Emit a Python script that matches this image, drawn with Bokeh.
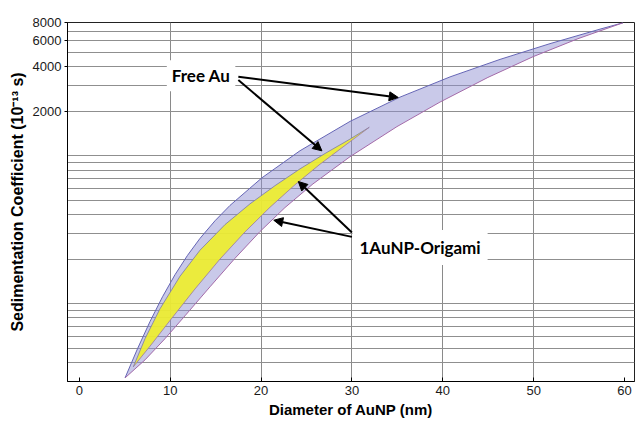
from bokeh.plotting import figure
from bokeh.models import FixedTicker, Label, Arrow, NormalHead, Range1d, NumeralTickFormatter
from bokeh.embed import file_html
from bokeh.resources import INLINE

# ---- data ----
free_upper_d = [5.03, 6.40, 7.78, 9.16, 10.53, 11.91, 13.28, 14.93, 16.58, 20.11, 24.29, 29.79,
                35.29, 40.80, 46.30, 51.80, 57.30, 59.83]
free_upper_s = [31.4, 49.4, 75.6, 111.3, 156.9, 212.3, 276.3, 363.6, 462.0, 711.7, 1084, 1712,
                2499, 3426, 4501, 5753, 7213, 7963]
free_lower_d = [5.03, 7.23, 9.43, 11.63, 14.38, 17.13, 19.88, 22.63, 25.71, 29.79, 34.96, 39.69,
                44.97, 49.93, 54.88, 59.83]
free_lower_s = [31.4, 41.6, 57.9, 82.7, 129.9, 202.6, 307.4, 446.8, 646.0, 987.4, 1579, 2313,
                3399, 4694, 6217, 7963]

origami_upper_d = [5.94, 7.23, 8.88, 11.08, 13.28, 16.03, 18.78, 21.54, 24.29, 27.04, 29.79, 31.91]
origami_upper_s = [37.3, 57.9, 92.3, 153.2, 229.9, 342.6, 473.4, 629.1, 817.1, 1038, 1299, 1562]
origami_lower_d = [5.94, 7.78, 9.98, 12.73, 15.48, 18.24, 20.99, 23.74, 26.49, 29.24, 31.91]
origami_lower_s = [37.3, 51.5, 76.8, 125.6, 200.1, 306.0, 449.3, 638.1, 878.7, 1177, 1562]

x_ticks = [0, 10, 20, 30, 40, 50, 60]
x_grid = [10, 20, 30, 40, 50]
y_ticks = [2000, 4000, 6000, 8000]
y_grid = [40, 50, 60, 70, 80, 90, 100, 200, 300, 400, 500, 600, 700, 800, 900,
          1000, 2000, 3000, 4000, 5000, 6000, 7000, 8000]

label_free = "Free Au"
label_origami = "1AuNP-Origami"

# ---- figure ----
p = figure(width=636, height=421, x_range=Range1d(-1.3, 61.1), y_range=Range1d(29.7, 8000),
           y_axis_type="log", output_backend="svg", toolbar_location=None,
           min_border_left=67, min_border_right=2, min_border_top=22, min_border_bottom=40)
p.background_fill_color = "white"
p.border_fill_color = "white"
p.outline_line_color = "#222222"
p.outline_line_width = 1

# grid
p.xgrid.ticker = FixedTicker(ticks=x_grid)
p.ygrid.ticker = FixedTicker(ticks=y_grid)
p.xgrid.grid_line_color = "#8a8a8a"
p.ygrid.grid_line_color = "#8f8f8f"
p.xgrid.grid_line_width = 1
p.ygrid.grid_line_width = 1

# axes
p.xaxis.ticker = FixedTicker(ticks=x_ticks)
p.yaxis.ticker = FixedTicker(ticks=y_ticks)
p.yaxis.formatter = NumeralTickFormatter(format="0")
for ax in (p.xaxis[0], p.yaxis[0]):
    ax.axis_line_color = "black"
    ax.axis_line_width = 1
    ax.major_tick_line_color = "black"
    ax.minor_tick_line_color = None
    ax.major_label_text_font = "Liberation Sans"
    ax.major_label_text_font_size = "13px"
    ax.major_label_text_color = "#1a1a1a"
    ax.axis_label_text_font = "Liberation Sans"
    ax.axis_label_text_font_style = "bold"
    ax.axis_label_text_font_size = "15px"
    ax.axis_label_text_color = "black"
p.yaxis.axis_label_text_font_size = "16px"
p.xaxis.major_tick_in = 4
p.xaxis.major_tick_out = 0
p.yaxis.major_tick_in = 0
p.yaxis.major_tick_out = 3
p.xaxis.major_label_standoff = 4
p.xaxis.axis_label_standoff = 3
p.yaxis.major_label_standoff = 3
p.yaxis.axis_label_standoff = 4
p.xaxis.axis_label = "Diameter of AuNP (nm)"
p.yaxis.axis_label = "Sedimentation Coefficient (10\u207b\u00b9\u00b3 s)"

# Free Au band
band_x = free_upper_d + free_lower_d[::-1]
band_y = free_upper_s + free_lower_s[::-1]
p.patch(band_x, band_y, fill_color="#8f8fd0", fill_alpha=0.48, line_color=None)
p.line(free_upper_d, free_upper_s, line_color="#6565b5", line_width=1)
p.line(free_lower_d, free_lower_s, line_color="#a36aa8", line_width=1)

# 1AuNP-Origami band
ob_x = origami_upper_d + origami_lower_d[::-1]
ob_y = origami_upper_s + origami_lower_s[::-1]
p.patch(ob_x, ob_y, fill_color="#eeee2e", fill_alpha=0.92, line_color=None)
p.line(origami_upper_d, origami_upper_s, line_color="#7a7aa8", line_width=0.8)
p.line(origami_lower_d, origami_lower_s, line_color="#9a7aa0", line_width=0.8)

# labels
p.add_layout(Label(x=13.4, y=3487, text=label_free, text_align="center", text_baseline="middle",
                   text_font="Lato", text_font_style="bold", text_font_size="17px",
                   text_color="black", background_fill_color="white", padding=5))
p.add_layout(Label(x=37.5, y=240, text=label_origami, text_align="center", text_baseline="middle",
                   text_font="Lato", text_font_style="bold", text_font_size="17px",
                   text_color="black", background_fill_color="white", padding=7))

# arrows (start -> end)
arrows = [
    (17.5, 3431, 35.1, 2486),
    (17.5, 3260, 26.7, 1082),
    (30.0, 303, 24.1, 671),
    (30.0, 283, 21.4, 367),
]
for xs, ys, xe, ye in arrows:
    p.add_layout(Arrow(end=NormalHead(size=9, fill_color="black", line_color="black"),
                       x_start=xs, y_start=ys, x_end=xe, y_end=ye,
                       line_color="black", line_width=2))

open("out.html", "w").write(file_html(p, INLINE))
